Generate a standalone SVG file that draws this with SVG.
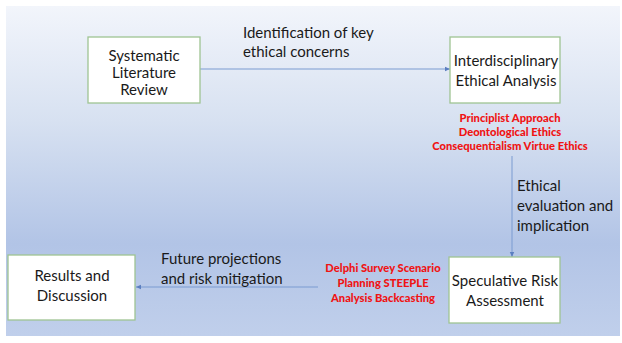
<svg xmlns="http://www.w3.org/2000/svg" width="622" height="343" viewBox="0 0 622 343">
  <defs>
    <linearGradient id="bg" x1="0" y1="0" x2="0" y2="1">
      <stop offset="0" stop-color="#f2f5fb"/>
      <stop offset="0.35" stop-color="#d7e1f1"/>
      <stop offset="0.72" stop-color="#b2c4e6"/>
      <stop offset="1" stop-color="#c0cfeb"/>
    </linearGradient>
    <marker id="arrow" viewBox="0 0 6 6" refX="5" refY="3" markerWidth="6" markerHeight="6" orient="auto" markerUnits="userSpaceOnUse">
      <path d="M0,0.8 L5,3 L0,5.2 z" fill="#5b7fc0"/>
    </marker>
    <style>
      .box { fill: #ffffff; stroke: #9fc493; stroke-width: 1.3; }
      .lbl { font-family: Lato, "Open Sans", "Liberation Sans", sans-serif; font-size: 15px; fill: #1a1a1a; }
      .mid { text-anchor: middle; }
      .red { font-family: Lato, "Open Sans", "Liberation Sans", sans-serif; font-size: 11.2px; font-weight: 900; fill: #f01414; text-anchor: middle; }
      .link { stroke: #7b9bd1; stroke-width: 1; fill: none; marker-end: url(#arrow); }
    </style>
  </defs>

  <rect x="0" y="0" width="622" height="343" fill="#ffffff"/>
  <rect x="6" y="6" width="614" height="330" fill="url(#bg)"/>

  <g id="connectors">
    <line class="link" x1="200" y1="69" x2="450" y2="69"/>
    <line class="link" x1="512" y1="156" x2="512" y2="257"/>
    <line class="link" x1="318" y1="287" x2="136" y2="287"/>
    <text class="lbl" x="243" y="38">Identification of key</text>
    <text class="lbl" x="243" y="57">ethical concerns</text>
    <text class="lbl" x="517" y="191">Ethical</text>
    <text class="lbl" x="517" y="211">evaluation and</text>
    <text class="lbl" x="517" y="231">implication</text>
    <text class="lbl" x="161" y="264">Future projections</text>
    <text class="lbl" x="161" y="284">and risk mitigation</text>
  </g>

  <g id="literature-review">
    <rect class="box" x="88" y="37" width="112" height="66"/>
    <text class="lbl mid" x="144" y="61">Systematic</text>
    <text class="lbl mid" x="144" y="78">Literature</text>
    <text class="lbl mid" x="144" y="95">Review</text>
  </g>

  <g id="ethical-analysis">
    <rect class="box" x="450" y="37" width="110" height="66"/>
    <text class="lbl mid" x="506" y="66">Interdisciplinary</text>
    <text class="lbl mid" x="506" y="86">Ethical Analysis</text>
    <text class="red" x="510" y="122">Principlist Approach</text>
    <text class="red" x="510" y="136">Deontological Ethics</text>
    <text class="red" x="510" y="150">Consequentialism Virtue Ethics</text>
  </g>

  <g id="risk-assessment">
    <rect class="box" x="449" y="257" width="111" height="66"/>
    <text class="lbl mid" x="505" y="286">Speculative Risk</text>
    <text class="lbl mid" x="505" y="306">Assessment</text>
    <text class="red" x="383" y="272">Delphi Survey Scenario</text>
    <text class="red" x="383" y="287">Planning STEEPLE</text>
    <text class="red" x="383" y="302">Analysis Backcasting</text>
  </g>

  <g id="results">
    <rect class="box" x="8" y="255" width="127" height="65"/>
    <text class="lbl mid" x="72" y="281">Results and</text>
    <text class="lbl mid" x="72" y="301">Discussion</text>
  </g>
</svg>
